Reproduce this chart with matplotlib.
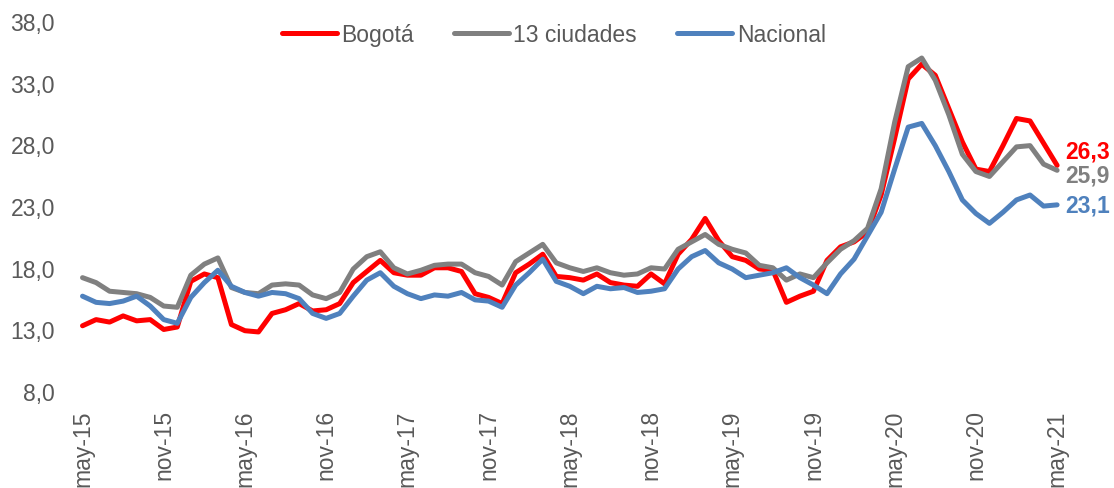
import matplotlib
matplotlib.use("Agg")
import matplotlib.pyplot as plt
import numpy as np

plt.rcParams['font.family'] = ['Liberation Sans', 'DejaVu Sans']

# Meses may-15 ... may-21
meses = ['ene', 'feb', 'mar', 'abr', 'may', 'jun', 'jul', 'ago', 'sep', 'oct', 'nov', 'dic']
fechas = []
for k in range(73):
    m = (4 + k) % 12
    a = 15 + (4 + k) // 12
    fechas.append(f"{meses[m]}-{a}")

bogota = [13.3, 13.8, 13.6, 14.1, 13.7, 13.8, 13.0, 13.2, 16.9, 17.5, 17.2, 13.4, 12.9, 12.8, 14.3,
          14.6, 15.1, 14.5, 14.6, 15.1, 16.8, 17.7, 18.6, 17.6, 17.4, 17.4, 18.0, 18.0, 17.7, 15.9,
          15.6, 15.1, 17.6, 18.3, 19.1, 17.3, 17.2, 17.0, 17.5, 16.8, 16.6, 16.5, 17.5, 16.7, 19.1,
          20.3, 22.0, 20.2, 18.9, 18.6, 17.9, 17.8, 15.2, 15.7, 16.1, 18.6, 19.7, 20.1, 20.9, 23.9,
          28.5, 33.3, 34.5, 33.6, 30.9, 28.2, 26.0, 25.8, 27.9, 30.1, 29.9, 28.1, 26.3]

ciudades13 = [17.2, 16.8, 16.1, 16.0, 15.9, 15.6, 14.9, 14.8, 17.4, 18.3, 18.8, 16.4, 16.0, 15.9, 16.6,
              16.7, 16.6, 15.8, 15.5, 16.0, 17.9, 18.9, 19.3, 18.0, 17.5, 17.8, 18.2, 18.3, 18.3, 17.6,
              17.3, 16.6, 18.5, 19.2, 19.9, 18.4, 18.0, 17.7, 18.0, 17.6, 17.4, 17.5, 18.0, 17.9, 19.5,
              20.1, 20.7, 19.9, 19.5, 19.2, 18.2, 18.0, 17.0, 17.5, 17.2, 18.4, 19.5, 20.2, 21.2, 24.4,
              29.8, 34.3, 35.0, 33.2, 30.4, 27.2, 25.8, 25.4, 26.6, 27.8, 27.9, 26.4, 25.9]

nacional = [15.7, 15.2, 15.1, 15.3, 15.7, 14.9, 13.8, 13.5, 15.6, 16.8, 17.8, 16.5, 16.0, 15.7, 16.0,
            15.9, 15.5, 14.3, 13.9, 14.3, 15.7, 17.0, 17.6, 16.5, 15.9, 15.5, 15.8, 15.7, 16.0, 15.4,
            15.3, 14.8, 16.6, 17.6, 18.7, 16.9, 16.5, 15.9, 16.5, 16.3, 16.4, 16.0, 16.1, 16.3, 17.9,
            18.9, 19.4, 18.4, 17.9, 17.2, 17.4, 17.6, 18.0, 17.2, 16.6, 15.9, 17.5, 18.7, 20.6, 22.5,
            26.0, 29.4, 29.7, 27.9, 25.8, 23.5, 22.4, 21.6, 22.5, 23.5, 23.9, 23.0, 23.1]

series = [("Bogotá", bogota, "#FF0000"),
          ("13 ciudades", ciudades13, "#808080"),
          ("Nacional", nacional, "#4F81BD")]

gris_texto = "#595959"

fig = plt.figure(figsize=(11.14, 4.89), dpi=100)
ax = fig.add_axes([0.068, 0.198, 0.887, 0.757])

x = np.arange(len(fechas))
for nombre, valores, color in series:
    ax.plot(x, valores, color=color, lw=3.6, label=nombre,
            solid_joinstyle='round', solid_capstyle='round')

# etiquetas del último dato
desfase = {"Bogotá": 1.2, "13 ciudades": -0.4, "Nacional": 0.0}
for nombre, valores, color in series:
    ax.annotate(f"{valores[-1]:.1f}".replace(".", ","), xy=(x[-1], valores[-1] + desfase[nombre]),
                xytext=(6, 0), textcoords='offset points', va='center', ha='left',
                color=color, fontsize=16.5, fontweight='bold', annotation_clip=False)

ax.set_xlim(-0.5, len(fechas) - 0.5)
ax.set_ylim(8, 38)
ax.set_yticks(np.arange(8, 38.1, 5))
ax.set_yticklabels([f"{v:.1f}".replace(".", ",") for v in np.arange(8, 38.1, 5)])
ax.set_xticks(x[::6])
ax.set_xticklabels(fechas[::6], rotation=90)

ax.tick_params(axis='y', length=0, pad=15, labelsize=16.5, labelcolor=gris_texto)
ax.tick_params(axis='x', length=0, pad=13, labelsize=16.5, labelcolor=gris_texto)
for s in ax.spines.values():
    s.set_visible(False)

leg = fig.legend(loc='center', bbox_to_anchor=(0.497, 0.928), ncol=3, frameon=False,
                 fontsize=16.5, handlelength=2.4, handletextpad=0.2, columnspacing=1.75)
for t in leg.get_texts():
    t.set_color(gris_texto)

fig.savefig("out.png", dpi=100)
